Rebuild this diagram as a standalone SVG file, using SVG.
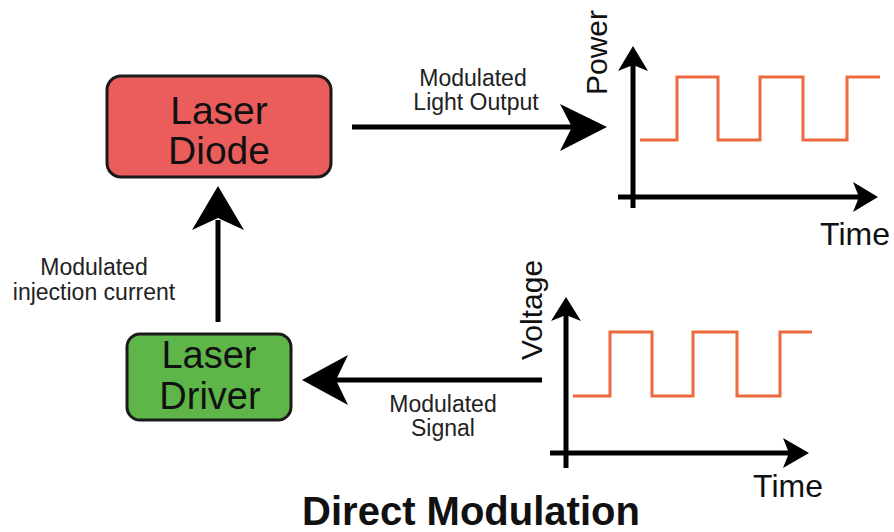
<svg xmlns="http://www.w3.org/2000/svg" width="894" height="532" viewBox="0 0 894 532">
<style>
.box{stroke:#1a1a1a;stroke-width:3}
.big{font-family:"Liberation Sans",Arial,sans-serif;font-size:38px;fill:#111;text-anchor:middle}
.lbl{font-family:"Liberation Sans",Arial,sans-serif;font-size:23px;fill:#222;text-anchor:middle}
.ax{font-family:"Liberation Sans",Arial,sans-serif;font-size:30px;fill:#111}
.shaft{stroke:#000;stroke-width:5;fill:none}
.axis{stroke:#000;stroke-width:5;fill:none}
.head{fill:#000}
.wave{stroke:#ec6a3e;stroke-width:3;fill:none}
</style>
<rect width="894" height="532" fill="#fff"/>
<g id="laser-diode">
<rect class="box" x="107" y="76" width="224" height="101" rx="14" fill="#eb5d5d"/>
<text class="big" x="219" y="124" style="font-size:39px">Laser</text>
<text class="big" x="219" y="164" style="font-size:39px">Diode</text>
</g>
<g id="laser-driver">
<rect class="box" x="127" y="334" width="164" height="86" rx="13" fill="#5eb548"/>
<text class="big" x="209" y="368">Laser</text>
<text class="big" x="210" y="409">Driver</text>
</g>
<g id="connectors">
<line class="shaft" x1="352" y1="127" x2="575" y2="127"/>
<path class="head" d="M607,127 L560,104 L572,127 L560,151 Z"/>
<line class="shaft" x1="218" y1="322" x2="218" y2="220"/>
<path class="head" d="M218,186 L192,230 L218,218 L244,230 Z"/>
<line class="shaft" x1="542" y1="380" x2="330" y2="380"/>
<path class="head" d="M302,380 L348,355 L336,380 L348,405 Z"/>
<text class="lbl" x="473" y="86">Modulated</text>
<text class="lbl" x="476" y="110">Light Output</text>
<text class="lbl" x="94" y="275">Modulated</text>
<text class="lbl" x="94" y="300">injection current</text>
<text class="lbl" x="443" y="412">Modulated</text>
<text class="lbl" x="443" y="436">Signal</text>
</g>
<g id="power-graph">
<line class="axis" x1="633" y1="208" x2="633" y2="62"/>
<path class="head" d="M633,46 L618,71 L633,65 L648,71 Z"/>
<line class="axis" x1="618" y1="197" x2="862" y2="197"/>
<path class="head" d="M878,197 L853,182 L859,197 L853,212 Z"/>
<polyline class="wave" points="640,140 677,140 677,77 718,77 718,140 760,140 760,77 803,77 803,140 847,140 847,77 880,77"/>
<text class="ax" transform="translate(607,95) rotate(-90)">Power</text>
<text class="ax" x="855" y="245" style="font-size:32px;text-anchor:middle">Time</text>
</g>
<g id="voltage-graph">
<line class="axis" x1="566" y1="468" x2="566" y2="312"/>
<path class="head" d="M566,297 L551,321 L566,315 L581,321 Z"/>
<line class="axis" x1="550" y1="453" x2="793" y2="453"/>
<path class="head" d="M809,453 L783,438 L789,453 L783,468 Z"/>
<polyline class="wave" points="573,396 610,396 610,332 652,332 652,396 693,396 693,332 737,332 737,396 780,396 780,332 812,332"/>
<text class="ax" transform="translate(542,360) rotate(-90)">Voltage</text>
<text class="ax" x="788" y="497" style="font-size:32px;text-anchor:middle">Time</text>
</g>
<g id="title">
<text x="471" y="525" style="font-family:'Liberation Sans',Arial,sans-serif;font-size:40px;font-weight:bold;fill:#111;text-anchor:middle">Direct Modulation</text>
</g>
</svg>
